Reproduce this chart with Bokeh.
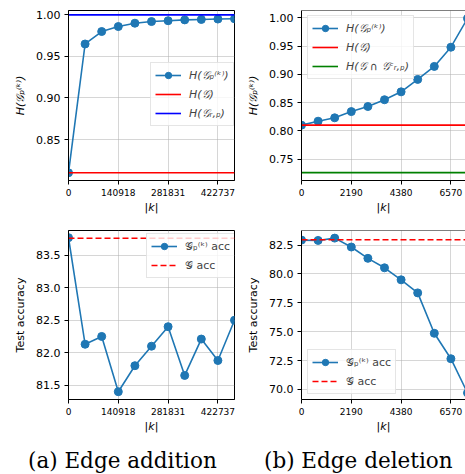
from bokeh.plotting import figure
from bokeh.models import FixedTicker, Span, Div, PrintfTickFormatter, Range1d
from bokeh.layouts import column, row
from bokeh.embed import file_html
from bokeh.resources import INLINE

# ---------------- data ----------------
add_k = [0, 46973, 93945, 140918, 187890, 234863, 281831, 328804, 375777, 422737, 469710]
add_entropy = [0.810, 0.965, 0.980, 0.986, 0.990, 0.992, 0.993, 0.994, 0.9945, 0.995, 0.9953]
add_H_G = 0.810
add_H_Grp = 1.000
add_acc = [83.77, 82.13, 82.25, 81.40, 81.80, 82.10, 82.40, 81.65, 82.21, 81.88, 82.50]
add_G_acc = 83.76
add_xticks = [0, 140918, 281831, 422737]
add_xtick_labels = ["0", "140918", "281831", "422737"]

del_k = [0, 730, 1460, 2190, 2920, 3650, 4380, 5110, 5840, 6570, 7300]
del_entropy = [0.810, 0.817, 0.823, 0.834, 0.843, 0.855, 0.869, 0.891, 0.914, 0.948, 0.999]
del_H_G = 0.810
del_H_Gcap = 0.726
del_acc = [82.93, 82.90, 83.10, 82.33, 81.35, 80.53, 79.49, 78.36, 74.86, 72.66, 69.70]
del_G_acc = 82.96
del_xticks = [0, 2190, 4380, 6570]
del_xtick_labels = ["0", "2190", "4380", "6570"]

ent_ticks_add = [0.85, 0.90, 0.95, 1.00]
ent_ticks_del = [0.75, 0.80, 0.85, 0.90, 0.95, 1.00]
acc_ticks_add = [81.5, 82.0, 82.5, 83.0, 83.5]
acc_ticks_del = [70.0, 72.5, 75.0, 77.5, 80.0, 82.5]

lbl_Hp = "H(𝒢ₚ⁽ᵏ⁾)"
lbl_HG = "H(𝒢)"
lbl_HGrp = "H(𝒢ᵣ,ₚ)"
lbl_HGcap = "H(𝒢 ∩ 𝒢ᶜᵣ,ₚ)"
lbl_accp = "𝒢ₚ⁽ᵏ⁾ acc"
lbl_accG = "𝒢 acc"

BLUE = "#1f77b4"
FONT = "DejaVu Sans"

FRAME_A = 166
FRAME_B = 164


def make_fig(xr, yr, xticks, xlabels, yticks, yfmt, ylabel, ylabel_style,
             left, fw, right, top, fh, bottom, outline):
    p = figure(output_backend="svg", toolbar_location=None,
               frame_width=fw, frame_height=fh,
               min_border_left=left, min_border_right=right,
               min_border_top=top, min_border_bottom=bottom,
               x_range=Range1d(*xr), y_range=Range1d(*yr))
    p.background_fill_color = "white"
    p.border_fill_color = "white"
    p.outline_line_color = "black" if outline else None
    p.outline_line_width = 1
    p.xaxis.ticker = FixedTicker(ticks=xticks)
    p.xaxis.major_label_overrides = {t: l for t, l in zip(xticks, xlabels)}
    p.yaxis.ticker = FixedTicker(ticks=yticks)
    p.yaxis.formatter = PrintfTickFormatter(format=yfmt)
    for ax in (p.xaxis[0], p.yaxis[0]):
        ax.axis_line_color = "black"
        ax.axis_line_width = 1
        ax.major_tick_out = 4
        ax.major_tick_in = 0
        ax.minor_tick_out = 0
        ax.minor_tick_in = 0
        ax.major_tick_line_color = "black"
        ax.major_label_text_font = FONT
        ax.major_label_text_color = "black"
        ax.axis_label_text_font = FONT
        ax.axis_label_text_font_size = "11px"
        ax.axis_label_text_color = "black"
    p.xaxis.major_label_text_font_size = "9px"
    p.yaxis.major_label_text_font_size = "11px"
    p.xaxis.major_label_standoff = 4
    p.yaxis.major_label_standoff = 4
    p.xaxis.axis_label = "|k|"
    p.xaxis.axis_label_text_font_style = "italic"
    p.xaxis.axis_label_standoff = 2
    p.yaxis.axis_label = ylabel
    p.yaxis.axis_label_text_font_style = ylabel_style
    p.yaxis.axis_label_standoff = 6
    p.grid.grid_line_color = "#b0b0b0"
    p.grid.grid_line_alpha = 0.65
    p.grid.grid_line_width = 0.8
    if not outline:
        p.add_layout(Span(location=yr[1], dimension="width",
                          line_color="black", line_width=1))
    return p


def style_legend(p, loc, italic):
    lg = p.legend[0]
    lg.location = loc
    lg.label_text_font = FONT
    lg.label_text_font_size = "11px"
    lg.label_text_font_style = "italic" if italic else "normal"
    lg.glyph_width = 26
    lg.glyph_height = 16
    lg.label_height = 16
    lg.label_standoff = 8
    lg.spacing = 3
    lg.padding = 4
    lg.margin = 0
    lg.border_line_color = "#cccccc"
    lg.border_line_width = 1
    lg.background_fill_color = "white"
    lg.background_fill_alpha = 0.8


# ---------- (a) top ----------
a1 = make_fig((0, add_k[-1]), (0.8007, 1.0053), add_xticks, add_xtick_labels,
              ent_ticks_add, "%.2f", lbl_Hp, "italic",
              68, FRAME_A, 6, 10, 170, 35, True)
a1.line(add_k, add_entropy, line_color=BLUE, line_width=1.6, legend_label=lbl_Hp)
a1.scatter(add_k, add_entropy, size=8, fill_color=BLUE, line_color=BLUE, legend_label=lbl_Hp)
a1.line([add_k[0], add_k[-1]], [add_H_G, add_H_G], line_color="red", line_width=1.6, legend_label=lbl_HG)
a1.line([add_k[0], add_k[-1]], [add_H_Grp, add_H_Grp], line_color="blue", line_width=1.6, legend_label=lbl_HGrp)
style_legend(a1, (82, 54), True)

# ---------- (b) top ----------
b_xend = del_k[-1] * FRAME_B / FRAME_A
b1 = make_fig((0, b_xend), (0.712, 1.013), del_xticks, del_xtick_labels,
              ent_ticks_del, "%.2f", lbl_Hp, "italic",
              61, FRAME_B, 0, 10, 170, 35, False)
b1.line(del_k, del_entropy, line_color=BLUE, line_width=1.6, legend_label=lbl_Hp)
b1.scatter(del_k, del_entropy, size=8, fill_color=BLUE, line_color=BLUE, legend_label=lbl_Hp)
b1.line([del_k[0], del_k[-1]], [del_H_G, del_H_G], line_color="red", line_width=1.6, legend_label=lbl_HG)
b1.line([del_k[0], del_k[-1]], [del_H_Gcap, del_H_Gcap], line_color="green", line_width=1.6, legend_label=lbl_HGcap)
style_legend(b1, (6, 101), True)

# ---------- (a) bottom ----------
a2 = make_fig((0, add_k[-1]), (81.28, 83.88), add_xticks, add_xtick_labels,
              acc_ticks_add, "%.1f", "Test accuracy", "normal",
              68, FRAME_A, 6, 14, 169, 40, True)
a2.line(add_k, add_acc, line_color=BLUE, line_width=1.6, legend_label=lbl_accp)
a2.scatter(add_k, add_acc, size=8, fill_color=BLUE, line_color=BLUE, legend_label=lbl_accp)
a2.line([add_k[0], add_k[-1]], [add_G_acc, add_G_acc], line_color="red", line_width=1.6,
        line_dash="6 3", legend_label=lbl_accG)
style_legend(a2, (78, 121), False)

# ---------- (b) bottom ----------
b2 = make_fig((0, b_xend), (69.13, 83.76), del_xticks, del_xtick_labels,
              acc_ticks_del, "%.1f", "Test accuracy", "normal",
              61, FRAME_B, 0, 14, 169, 40, False)
b2.line(del_k, del_acc, line_color=BLUE, line_width=1.6, legend_label=lbl_accp)
b2.scatter(del_k, del_acc, size=8, fill_color=BLUE, line_color=BLUE, legend_label=lbl_accp)
b2.line([del_k[0], del_k[-1]], [del_G_acc, del_G_acc], line_color="red", line_width=1.6,
        line_dash="6 3", legend_label=lbl_accG)
style_legend(b2, (6, 5), False)

cap_style = ("font-family:'DejaVu Serif';font-size:21.5px;line-height:21px;"
             "white-space:nowrap;color:black;position:absolute;top:11px;")
capA = Div(text=f"<div style=\"{cap_style}left:28px\">(a) Edge addition</div>",
           width=240, height=36, margin=0)
capB = Div(text=f"<div style=\"{cap_style}left:24px\">(b) Edge deletion</div>",
           width=225, height=36, margin=0)

layout = column(row(a1, b1), row(a2, b2), row(capA, capB))

open("out.html", "w").write(file_html(layout, INLINE))
